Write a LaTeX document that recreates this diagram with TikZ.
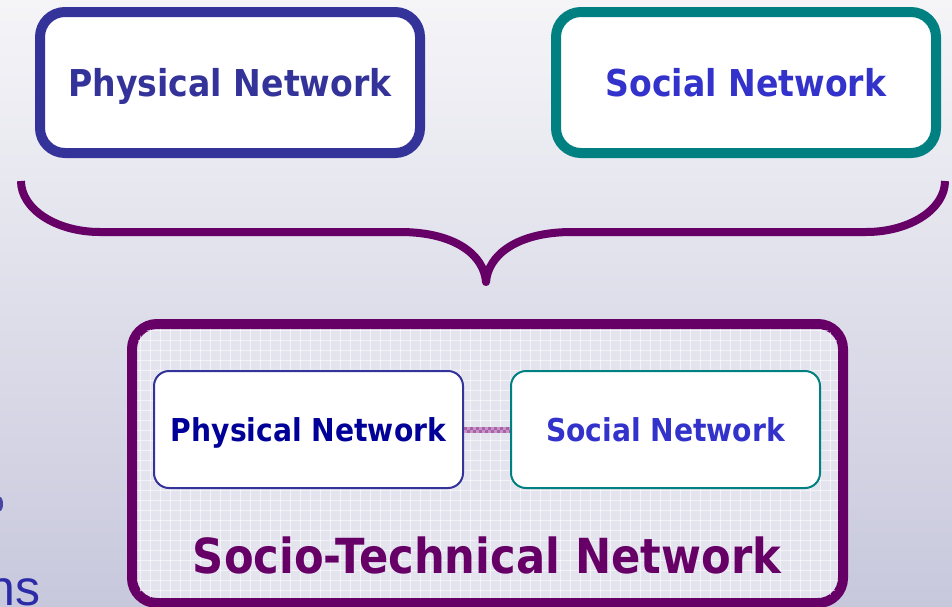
\documentclass[tikz,border=0pt]{standalone}
\usepackage{fontspec}
\newfontfamily\tah[FakeStretch=0.895]{DejaVu Sans}
\newfontfamily\arialf{Liberation Sans}
\definecolor{navyA}{HTML}{333399}
\definecolor{navyB}{HTML}{000099}
\definecolor{blueS}{HTML}{3333CC}
\definecolor{tealC}{HTML}{008080}
\definecolor{plum}{HTML}{660066}
\definecolor{bgtop}{HTML}{F5F5F8}
\definecolor{bgbot}{HTML}{C8C8DD}
\definecolor{gridbg}{HTML}{E4E4EF}
\definecolor{linkA}{HTML}{C894C8}
\definecolor{linkB}{HTML}{A862A8}
\tikzset{
  bigbox/.style={draw, line width=10pt, fill=white, rounded corners=25pt, inner sep=0pt,
    minimum width=380pt, minimum height=141pt, font=\tah\bfseries\fontsize{37}{40}\selectfont,
    text height=27pt, text depth=0pt},
  smallbox/.style={draw, line width=2pt, fill=white, rounded corners=15pt, inner sep=0pt,
    minimum width=309pt, minimum height=117pt, font=\tah\bfseries\fontsize{31.5}{34}\selectfont,
    text height=23pt, text depth=0pt},
  brace/.style={draw=plum, line width=8pt, line join=round},
  gridline/.style={white, line width=1pt, opacity=0.55}
}
\begin{document}
\begin{tikzpicture}[x=1pt,y=-1pt]
\useasboundingbox (0,0) rectangle (952,606);
\shade[top color=bgtop, bottom color=bgbot] (0,0) rectangle (952,606);
% cut-off text at the left edge
\fill[navyA!90!white] (0,504) ellipse [x radius=3pt, y radius=7pt];
\node[font=\arialf\fontsize{50}{52}\selectfont, text=navyA!85!blue, anchor=base east, inner sep=0pt] (cut) at (41,605) {ns};
% top boxes
\node[bigbox, draw=navyA, text=navyA] (phys) at (230,82.5) {Physical Network};
\node[bigbox, draw=tealC, text=blueS] (soc) at (746,82.5) {Social Network};
% brace
\coordinate (bl) at (21,181);
\coordinate (br) at (945,181);
\coordinate (tip) at (486,282);
\draw[brace] (bl) .. controls (21,209) and (56,232) .. (100,232) -- (400,232)
  .. controls (455,232) and (484,255) .. (tip)
  .. controls (488,255) and (517,232) .. (572,232) -- (866,232)
  .. controls (910,232) and (945,209) .. (br);
% bottom box
\node[draw=plum, line width=10pt, fill=gridbg, rounded corners=25pt, inner sep=0pt,
  minimum width=711pt, minimum height=279pt] (st) at (487.5,463.5) {};
\begin{scope}
  \clip[rounded corners=17pt] (137,329) rectangle (838,598);
  \foreach \gx in {140,150,...,840} \draw[gridline] (\gx,320) -- (\gx,610);
  \foreach \gy in {330,340,...,600} \draw[gridline] (130,\gy) -- (850,\gy);
\end{scope}
% inner boxes
\node[smallbox, draw=navyA, text=navyB] (iphys) at (308.5,429.5) {Physical Network};
\node[smallbox, draw=tealC, text=blueS] (isoc) at (665.5,429.5) {Social Network};
\draw[linkA, line width=6pt] (iphys.east) -- (isoc.west);
\draw[linkB, line width=3pt, dash pattern=on 3pt off 3pt] ([yshift=1.5pt]iphys.east) -- ([yshift=1.5pt]isoc.west);
\draw[linkB, line width=3pt, dash pattern=on 3pt off 3pt, dash phase=3pt] ([yshift=-1.5pt]iphys.east) -- ([yshift=-1.5pt]isoc.west);
\node[font=\tah\bfseries\fontsize{48.3}{50}\selectfont, text=plum, anchor=base, inner sep=0pt] (stlabel) at (487,573) {Socio-Technical Network};
\end{tikzpicture}
\end{document}
